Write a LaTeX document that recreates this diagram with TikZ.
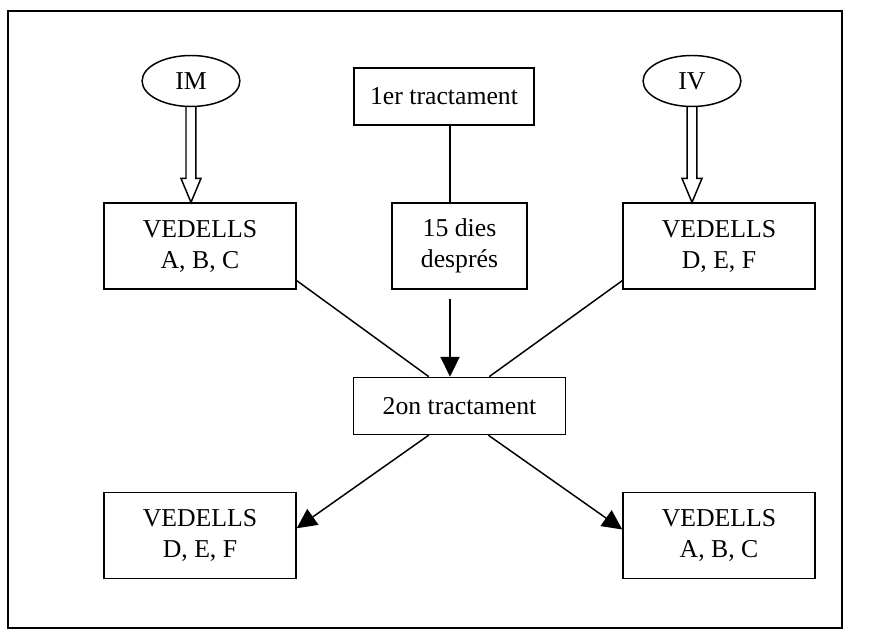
\documentclass[tikz,border=0pt]{standalone}
\usepackage{fontspec}
\setmainfont{Liberation Serif}
\usetikzlibrary{shapes.geometric, arrows.meta, positioning, calc}
\tikzset{
        box/.style={rectangle, draw, line width=0.7pt, align=center, inner sep=0pt, minimum width=3.2cm, minimum height=1.43cm},
        smallbox/.style={rectangle, draw, line width=0.7pt, align=center, inner sep=0pt, minimum height=0.95cm},
        route/.style={ellipse, draw, line width=0.7pt, inner sep=0pt, minimum width=1.63cm, minimum height=0.85cm},
        arrow/.style={-{Triangle[length=0.33cm, width=0.32cm]}, line width=0.7pt},
        link/.style={line width=0.7pt},
        hollow/.style={draw, line width=0.7pt},
        frame/.style={draw, line width=0.9pt},
    }
\newcommand{\hollowarrow}[2]{%
    \draw[hollow] let \p1=(#1.south), \p2=(#2.north) in
        (\x1-0.083cm,\y1) -- (\x1-0.083cm,\y2+0.4cm) -- (\x1-0.167cm,\y2+0.4cm)
        -- (\x1,\y2) -- (\x1+0.167cm,\y2+0.4cm) -- (\x1+0.083cm,\y2+0.4cm) -- (\x1+0.083cm,\y1);
}

\begin{document}
\begin{tikzpicture}[font=\fontsize{12.2}{14.7}\selectfont]
        \useasboundingbox (0,0) rectangle (14.7,-10.667);
        \draw[frame] (0.133,-0.183) rectangle (14.033,-10.467);

        % Routes
        \node[route] (im) at (3.183,-1.35) {IM};
        \node[route] (iv) at (11.533,-1.35) {IV};

        % First treatment
        \node[smallbox, minimum width=3.0cm] (first) at (7.4,-1.608) {1er tractament};
        \node[box, minimum width=2.25cm] (dies) at (7.658,-4.1) {15 dies\\després};
        \coordinate (axis) at (7.5,0);

        % Groups
        \node[box] (vedA) at (3.333,-4.1) {VEDELLS\\A, B, C};
        \node[box] (vedD) at (11.983,-4.1) {VEDELLS\\D, E, F};

        % Second treatment
        \node[smallbox, minimum width=3.533cm, below=1.45cm of dies] (second) {2on tractament};
        \node[box, below=3.37cm of vedA] (endD) {VEDELLS\\D, E, F};
        \node[box, below=3.37cm of vedD] (endA) {VEDELLS\\A, B, C};

        % Arrows
        \hollowarrow{im}{vedA}
        \hollowarrow{iv}{vedD}
        \draw[link] (first.south -| axis) -- (dies.north -| axis);
        \draw[arrow, shorten <=0.15cm] (dies.south -| axis) -- (second.north -| axis);
        \draw[link] ([yshift=0.15cm]vedA.south east) -- ([xshift=1.267cm]second.north west);
        \draw[link] ([yshift=0.15cm]vedD.south west) -- ([xshift=-1.283cm]second.north east);
        \draw[arrow] ([xshift=1.267cm]second.south west) -- ([yshift=0.12cm]endD.east);
        \draw[arrow] ([xshift=-1.3cm]second.south east) -- ([yshift=0.1cm]endA.west);
\end{tikzpicture}
\end{document}
